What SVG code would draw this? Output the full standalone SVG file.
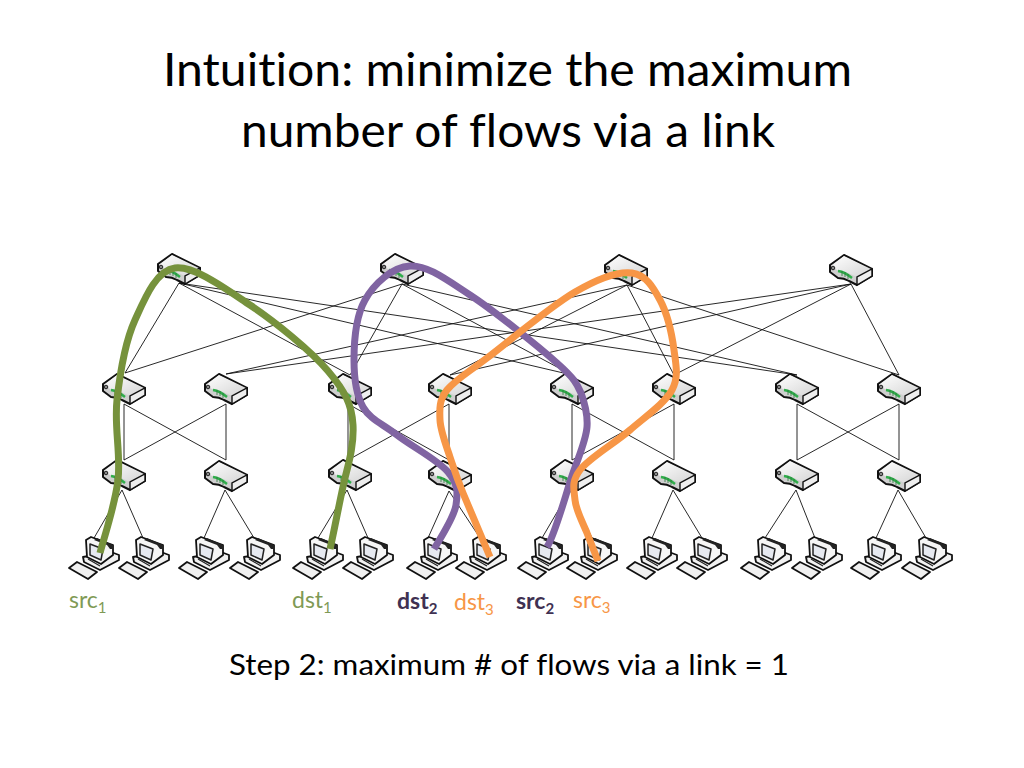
<svg xmlns="http://www.w3.org/2000/svg" width="1024" height="768" viewBox="0 0 1024 768">
<style>
text{font-family:"Lato","Liberation Sans",sans-serif;font-variant-ligatures:none}
.title{font-size:46px;fill:#000;text-anchor:middle}
.step{font-size:29px;fill:#000}
.lab{font-size:23px}
.sub{font-size:15px}
.g{fill:#7f9a55}.p{fill:#403152;font-weight:700}.o{fill:#f79646}
#links line{stroke:#111;stroke-width:.9}
.flow{fill:none;stroke-width:7;stroke-linecap:butt;stroke-linejoin:round}
.s{stroke:#111;stroke-width:2;stroke-linejoin:round}
.t{stroke:#111;stroke-width:1.8;stroke-linejoin:round}
</style>
<defs>
<linearGradient id="top" x1="0" y1="0" x2="1" y2="1"><stop offset="0" stop-color="#fff"/><stop offset="1" stop-color="#d4d4d4"/></linearGradient>
<g id="switch">
<path class="s" d="M-21-5L-7-15L21-1V6L6 15L-2 11Q-7 8-13 8L-21 2Z" fill="#cfcfcf"/>
<path d="M-20-4L-7-14L20-1L6 7L-3 3Q-9 0-14 0Z" fill="url(#top)"/>
<path d="M6 7V15L21 6V-1Z" fill="#eee" stroke="#111" stroke-width="1.4"/>
<path d="M-13 1Q-6 2 1 8" fill="none" stroke="#2fae4a" stroke-width="2.4"/>
<path d="M-9 1V6M-6 2V7M-3 4V9" stroke="#2a7a3a" stroke-width=".8"/>
<circle cx="-18" cy="-2" r="1.8" fill="#888" stroke="#111" stroke-width=".9"/>
</g>
<g id="host">
<path class="t" d="M-25 11L-17 5L3 15L-6 22Z" fill="#f0f0f0"/>
<path class="t" d="M-11 0L-10 5L6 13L25 3V-2L17-5Z" fill="#f2f2f2"/>
<path class="t" d="M-8-17L-3-20L19-12V-2L7 7L-7 0Z" fill="#f6f6f6"/>
<path d="M3-19L19-12V-8L16-8L13-12L0-17Z" fill="#222"/>
<path d="M-6 2L6 9" stroke="#222" stroke-width="1.2" fill="none"/>
<path d="M-4-13L9-8L7 3L-4-2Z" fill="#e6e9f0" stroke="#222" stroke-width="1.5" stroke-linejoin="round"/>
</g>
</defs>
<text class="title" x="507.500" y="86" textLength="689" lengthAdjust="spacingAndGlyphs">Intuition: minimize the maximum</text>
<text class="title" x="508" y="147" textLength="534" lengthAdjust="spacingAndGlyphs">number of flows via a link</text>
<g id="links">
<line x1="179" y1="283" x2="125" y2="373"/><line x1="179" y1="283" x2="350" y2="375"/><line x1="179" y1="283" x2="572" y2="375"/><line x1="179" y1="283" x2="797" y2="375"/>
<line x1="402" y1="284" x2="125" y2="373"/><line x1="402" y1="284" x2="350" y2="375"/><line x1="402" y1="284" x2="572" y2="375"/><line x1="402" y1="284" x2="797" y2="375"/>
<line x1="627" y1="285" x2="226" y2="374"/><line x1="627" y1="285" x2="450" y2="375"/><line x1="627" y1="285" x2="674" y2="375"/><line x1="627" y1="285" x2="899" y2="375"/>
<line x1="851" y1="284" x2="226" y2="374"/><line x1="851" y1="284" x2="450" y2="375"/><line x1="851" y1="284" x2="674" y2="375"/><line x1="851" y1="284" x2="899" y2="375"/>
<line x1="124" y1="404" x2="124" y2="460"/><line x1="124" y1="404" x2="226" y2="460"/><line x1="226" y1="404" x2="124" y2="460"/><line x1="226" y1="404" x2="226" y2="460"/>
<line x1="348" y1="404" x2="348" y2="460"/><line x1="348" y1="404" x2="449" y2="460"/><line x1="449" y1="404" x2="348" y2="460"/><line x1="449" y1="404" x2="449" y2="460"/>
<line x1="572" y1="404" x2="572" y2="460"/><line x1="572" y1="404" x2="674" y2="460"/><line x1="674" y1="404" x2="572" y2="460"/><line x1="674" y1="404" x2="674" y2="460"/>
<line x1="797" y1="404" x2="797" y2="460"/><line x1="797" y1="404" x2="899" y2="460"/><line x1="899" y1="404" x2="797" y2="460"/><line x1="899" y1="404" x2="899" y2="460"/>
<line x1="122" y1="490" x2="94" y2="538"/><line x1="122" y1="490" x2="143" y2="538"/>
<line x1="225" y1="490" x2="204" y2="538"/><line x1="225" y1="490" x2="254" y2="538"/>
<line x1="347" y1="490" x2="318" y2="538"/><line x1="347" y1="490" x2="368" y2="538"/>
<line x1="449" y1="491" x2="428" y2="538"/><line x1="449" y1="491" x2="480" y2="538"/>
<line x1="570" y1="490" x2="542" y2="538"/><line x1="570" y1="490" x2="592" y2="538"/>
<line x1="673" y1="490" x2="652" y2="538"/><line x1="673" y1="490" x2="702" y2="538"/>
<line x1="796" y1="490" x2="765" y2="538"/><line x1="796" y1="490" x2="815" y2="538"/>
<line x1="898" y1="490" x2="876" y2="538"/><line x1="898" y1="490" x2="926" y2="538"/>
</g>
<g id="core1"><use href="#switch" x="179" y="269"/></g>
<g id="core2"><use href="#switch" x="402" y="269"/></g>
<g id="core3"><use href="#switch" x="626" y="270"/></g>
<g id="core4"><use href="#switch" x="851" y="270"/></g>
<g id="agg1"><use href="#switch" x="124" y="389"/></g>
<g id="agg2"><use href="#switch" x="226" y="389"/></g>
<g id="agg3"><use href="#switch" x="350" y="389"/></g>
<g id="agg4"><use href="#switch" x="450" y="389"/></g>
<g id="agg5"><use href="#switch" x="572" y="389"/></g>
<g id="agg6"><use href="#switch" x="674" y="389"/></g>
<g id="agg7"><use href="#switch" x="797" y="389"/></g>
<g id="agg8"><use href="#switch" x="899" y="389"/></g>
<g id="edge1"><use href="#switch" x="124" y="475"/></g>
<g id="edge2"><use href="#switch" x="226" y="476"/></g>
<g id="edge3"><use href="#switch" x="350" y="475"/></g>
<g id="edge4"><use href="#switch" x="450" y="476"/></g>
<g id="edge5"><use href="#switch" x="572" y="475"/></g>
<g id="edge6"><use href="#switch" x="674" y="476"/></g>
<g id="edge7"><use href="#switch" x="797" y="475"/></g>
<g id="edge8"><use href="#switch" x="899" y="476"/></g>
<g id="host1"><use href="#host" x="94" y="557"/></g>
<g id="host2"><use href="#host" x="144" y="557"/></g>
<g id="host3"><use href="#host" x="204" y="557"/></g>
<g id="host4"><use href="#host" x="255" y="557"/></g>
<g id="host5"><use href="#host" x="318" y="557"/></g>
<g id="host6"><use href="#host" x="368" y="557"/></g>
<g id="host7"><use href="#host" x="432" y="557"/></g>
<g id="host8"><use href="#host" x="481" y="557"/></g>
<g id="host9"><use href="#host" x="543" y="557"/></g>
<g id="host10"><use href="#host" x="592" y="557"/></g>
<g id="host11"><use href="#host" x="652" y="557"/></g>
<g id="host12"><use href="#host" x="702" y="557"/></g>
<g id="host13"><use href="#host" x="766" y="557"/></g>
<g id="host14"><use href="#host" x="817" y="557"/></g>
<g id="host15"><use href="#host" x="876" y="557"/></g>
<g id="host16"><use href="#host" x="927" y="557"/></g>
<g id="flows">
<path class="flow" stroke="#76923c" d="M100 553C103 541 115 505.500 118 480C121 454.500 114 427 117 400C120 373 125 342 135 320C145 298 156 270.500 175 268C194 265.500 224.500 288 250 305C275.500 322 311 351 328 371C345 391 352 405 353 425C354 445 349 462 345 478C341 494 333 537 330 549"/>
<path class="flow" stroke="#8064a2" d="M434 549C438 542 454 518 456 505C458 492 458 484 448 472C438 460 411 446 397 435C383 424 370 419.500 363 407C356 394.500 354 378 354 360C354 342 356 316 365 300C374 284 392 267 410 266C427 265 445.500 279 470 295C494.500 311 539 347 557 363C575 379 577 384 581 393C585 404 588 414 587 427C586 440 580 453 573 473C566 493 555 535 547 547"/>
<path class="flow" stroke="#f79646" d="M490 557C485.500 546 470 510 463 493C456 476 454 469 450 457C446 445 440.500 431 440 420C439.500 409 439 400 447 390C455 380 466 374 487 358C508 342 551 306 575 292C599 278 618 271 632 273C646 275 653 287 660 300C667 313 672 335 674 350C676 365 679 377 672 390C665 403 645 417 630 430C615 443 589 458 580 470C571 482 574 489.500 575 500C576 510.500 583 523 587 533C591 543 594 551 598 561"/>
</g>
<g id="labels">
<text class="lab g" x="69" y="608">src<tspan class="sub" dy="5">1</tspan></text>
<text class="lab g" x="292" y="608">dst<tspan class="sub" dy="5">1</tspan></text>
<text class="lab p" x="397" y="609">dst<tspan class="sub" dy="5">2</tspan></text>
<text class="lab o" x="454" y="610">dst<tspan class="sub" dy="5">3</tspan></text>
<text class="lab p" x="516" y="609">src<tspan class="sub" dy="5">2</tspan></text>
<text class="lab o" x="573" y="608">src<tspan class="sub" dy="5">3</tspan></text>
<text class="step" x="229" y="675" textLength="560" lengthAdjust="spacingAndGlyphs">Step 2: maximum # of flows via a link = 1</text>
</g>
</svg>
